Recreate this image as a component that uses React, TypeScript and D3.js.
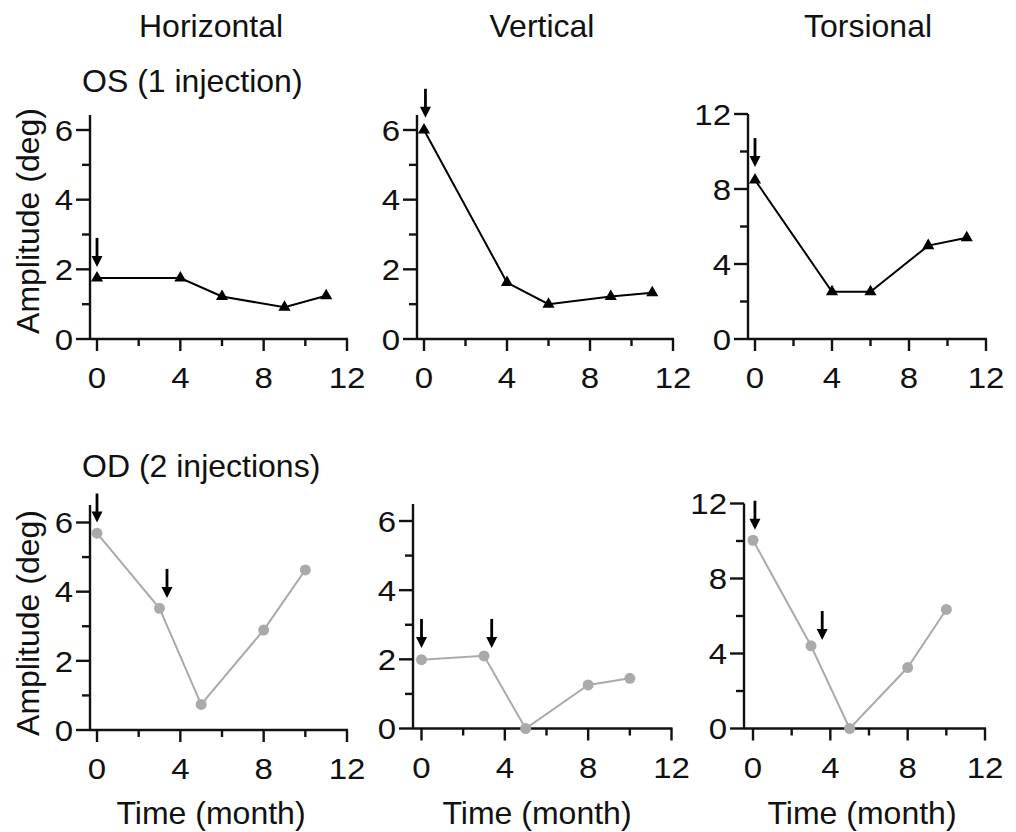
import React from "react";
import * as d3 from "d3";

// ---------- data ----------
const columnTitles = ["Horizontal", "Vertical", "Torsional"];
const rowTitles = ["OS (1 injection)", "OD (2 injections)"];
const yLabel = "Amplitude (deg)";
const xLabel = "Time (month)";
const xTicks = [0, 4, 8, 12];
const xMinorTicks = [2, 6, 10];
const yTicksSmall = [0, 2, 4, 6];
const yMinorSmall = [1, 3, 5];
const yTicksLarge = [0, 4, 8, 12];
const yMinorLarge = [2, 6, 10];

const osMonths = [0, 4, 6, 9, 11];
const osHorizontal = [1.75, 1.75, 1.22, 0.91, 1.24];
const osVertical = [6.0, 1.62, 1.0, 1.22, 1.33];
const osTorsional = [8.48, 2.52, 2.52, 4.98, 5.4];

const odMonths = [0, 3, 5, 8, 10];
const odHorizontal = [5.69, 3.52, 0.74, 2.89, 4.63];
const odVertical = [1.99, 2.1, 0, 1.26, 1.45];
const odTorsional = [10.04, 4.41, 0, 3.25, 6.35];

// injection arrows: month and value at arrow tip
const osArrowMonths = [[0], [0.07], [0]];
const osArrowTips = [[2.07], [6.35], [9.17]];
const odArrowMonths = [[0, 3.36], [0, 3.37], [0.1, 3.58]];
const odArrowTips = [[6.0, 3.82], [2.33, 2.33], [10.6, 4.72]];

// ---------- layout ----------
const FONT = "'Liberation Sans', Arial, sans-serif";
type PanelLayout = { axisX: number; x0: number; x12: number; y0: number; yTopPx: number; yMaxPx: number; yMax: number };
const layouts: PanelLayout[][] = [
  [
    { axisX: 90, x0: 97, x12: 347, y0: 339, yTopPx: 130, yMaxPx: 115, yMax: 6 },
    { axisX: 417, x0: 424, x12: 673, y0: 339, yTopPx: 130, yMaxPx: 115, yMax: 6 },
    { axisX: 748, x0: 755, x12: 986, y0: 339, yTopPx: 114, yMaxPx: 114, yMax: 12 },
  ],
  [
    { axisX: 90, x0: 97, x12: 347, y0: 730, yTopPx: 522.5, yMaxPx: 505, yMax: 6 },
    { axisX: 413, x0: 421.5, x12: 671.5, y0: 728.5, yTopPx: 521, yMaxPx: 504, yMax: 6 },
    { axisX: 744, x0: 753, x12: 985, y0: 728.5, yTopPx: 503.5, yMaxPx: 503.5, yMax: 12 },
  ],
];
const columnCenters = [211, 542, 868];
const xLabelCenters = [211, 537, 862];
const TXT = "#111";

const rows = [
  { months: osMonths, series: [osHorizontal, osVertical, osTorsional], arrowsX: osArrowMonths, arrowsY: osArrowTips, color: "#000", marker: "triangle" },
  { months: odMonths, series: [odHorizontal, odVertical, odTorsional], arrowsX: odArrowMonths, arrowsY: odArrowTips, color: "#aaaaaa", marker: "circle" },
];

function Panel({ layout, months, values, arrowsX, arrowsY, color, marker }: any) {
  const x = d3.scaleLinear().domain([0, 12]).range([layout.x0, layout.x12]);
  const y = d3.scaleLinear().domain([0, layout.yMax]).range([layout.y0, layout.yTopPx]);
  const big = layout.yMax === 12;
  const yt = big ? yTicksLarge : yTicksSmall;
  const ym = big ? yMinorLarge : yMinorSmall;
  const line = d3.line<number>().x((_, i) => x(months[i])).y((d) => y(d));
  const tri = d3.symbol(d3.symbolTriangle, 64)();
  const axisColor = "#111";
  const sw = 2.4;
  return (
    <g>
      {/* y axis */}
      <line x1={layout.axisX} x2={layout.axisX} y1={layout.y0} y2={layout.yMaxPx} stroke={axisColor} strokeWidth={sw} />
      {yt.map((t) => (
        <g key={"yt" + t}>
          <line x1={layout.axisX - 14} x2={layout.axisX} y1={y(t)} y2={y(t)} stroke={axisColor} strokeWidth={sw} />
          <text transform={`translate(${layout.axisX - 17},${y(t)}) scale(1.1,1)`} dy="0.36em" textAnchor="end" fontSize={30} fontFamily={FONT} fill={TXT}>{t}</text>
        </g>
      ))}
      {ym.map((t) => (
        <line key={"ym" + t} x1={layout.axisX - 8} x2={layout.axisX} y1={y(t)} y2={y(t)} stroke={axisColor} strokeWidth={sw} />
      ))}
      {/* x axis */}
      <line x1={layout.axisX} x2={x(12) + 1} y1={layout.y0} y2={layout.y0} stroke={axisColor} strokeWidth={sw} />
      {xTicks.map((t) => (
        <g key={"xt" + t}>
          <line x1={x(t)} x2={x(t)} y1={layout.y0} y2={layout.y0 + 12} stroke={axisColor} strokeWidth={sw} />
          <text transform={`translate(${x(t)},${layout.y0 + 49}) scale(1.1,1)`} textAnchor="middle" fontSize={30} fontFamily={FONT} fill={TXT}>{t}</text>
        </g>
      ))}
      {xMinorTicks.map((t) => (
        <line key={"xm" + t} x1={x(t)} x2={x(t)} y1={layout.y0} y2={layout.y0 + 7} stroke={axisColor} strokeWidth={sw} />
      ))}
      {/* data */}
      <path d={line(values) || ""} fill="none" stroke={color} strokeWidth={2} />
      {values.map((v: number, i: number) =>
        marker === "triangle" ? (
          <path key={"m" + i} d={tri || ""} transform={`translate(${x(months[i])},${y(v)})`} fill={color} />
        ) : (
          <circle key={"m" + i} cx={x(months[i])} cy={y(v)} r={5.5} fill={color} />
        )
      )}
      {/* arrows */}
      {arrowsX.map((ax: number, i: number) => {
        const px = x(ax);
        const tip = y(arrowsY[i]);
        return (
          <g key={"a" + i}>
            <line x1={px} x2={px} y1={tip - 29} y2={tip - 9} stroke="#000" strokeWidth={2.8} />
            <path d={`M${px - 5.5},${tip - 11}L${px + 5.5},${tip - 11}L${px},${tip}Z`} fill="#000" />
          </g>
        );
      })}
    </g>
  );
}

export default function App() {
  return (
    <svg width={1016} height={832} style={{ position: "absolute", left: 0, top: 0, background: "#fff" }}>
      <rect width={1016} height={832} fill="#fff" />
      {columnTitles.map((t, i) => (
        <text key={t} x={columnCenters[i]} y={37} textAnchor="middle" fontSize={32} fontFamily={FONT} fill={TXT}>{t}</text>
      ))}
      <text x={82} y={92} fontSize={32} fontFamily={FONT} fill={TXT}>{rowTitles[0]}</text>
      <text x={82} y={477} fontSize={32} fontFamily={FONT} fill={TXT}>{rowTitles[1]}</text>
      {[221, 623].map((cy, i) => (
        <text key={"yl" + i} transform={`translate(39,${cy}) rotate(-90)`} textAnchor="middle" fontSize={32} fontFamily={FONT} fill={TXT}>{yLabel}</text>
      ))}
      {xLabelCenters.map((cx, i) => (
        <text key={"xl" + i} x={cx} y={824} textAnchor="middle" fontSize={32} fontFamily={FONT} fill={TXT}>{xLabel}</text>
      ))}
      {rows.map((r, ri) =>
        layouts[ri].map((lay, ci) => (
          <Panel
            key={ri + "-" + ci}
            layout={lay}
            months={r.months}
            values={r.series[ci]}
            arrowsX={r.arrowsX[ci]}
            arrowsY={r.arrowsY[ci]}
            color={r.color}
            marker={r.marker}
          />
        ))
      )}
    </svg>
  );
}
